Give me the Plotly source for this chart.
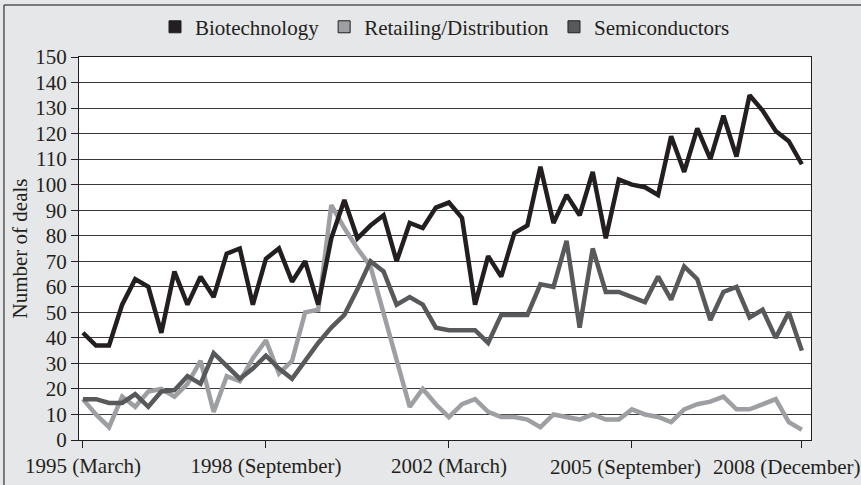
import plotly.graph_objects as go

quarters = list(range(56))
tick_positions = [0, 14, 28, 42, 55]
tick_labels = ["1995 (March)", "1998 (September)", "2002 (March)", "2005 (September)", "2008 (December)"]

biotech = [42, 37, 37, 53, 63, 60, 42, 66, 53, 64, 56, 73, 75, 53, 71, 75, 62, 70, 53, 79,
           94, 79, 84, 88, 70, 85, 83, 91, 93, 87, 53, 72, 64, 81, 84, 107, 85, 96, 88, 105,
           79, 102, 100, 99, 96, 119, 105, 122, 110, 127, 111, 135, 129, 121, 117, 108]
retail = [16, 10, 5, 17, 13, 19, 20, 17, 22, 31, 11, 25, 23, 32, 39, 26, 31, 50, 51, 92,
          83, 75, 68, 50, 32, 13, 20, 14, 9, 14, 16, 11, 9, 9, 8, 5, 10, 9, 8, 10,
          8, 8, 12, 10, 9, 7, 12, 14, 15, 17, 12, 12, 14, 16, 7, 4]
semis = [16, 16, 14.5, 14.5, 18, 13, 19, 19.5, 25, 22, 34, 29, 24, 28, 33, 28, 24, 31, 38, 44,
         49, 59, 70, 66, 53, 56, 53, 44, 43, 43, 43, 38, 49, 49, 49, 61, 60, 78, 44, 75,
         58, 58, 56, 54, 64, 55, 68, 63, 47, 58, 60, 48, 51, 40, 50, 35]

names = ["Biotechnology", "Retailing/Distribution", "Semiconductors"]
colors = ["#231f20", "#9d9fa2", "#58595b"]
series = [biotech, retail, semis]

FONT = "Liberation Serif"
FS = 21

fig = go.Figure()
# draw order: retail under, semis, biotech on top
for idx in [1, 2, 0]:
    fig.add_trace(go.Scatter(x=quarters, y=series[idx], mode="lines",
                             line=dict(color=colors[idx], width=4.5, shape="linear"),
                             showlegend=False, name=names[idx]))
for nm, c in zip(names, colors):
    fig.add_trace(go.Scatter(x=[None], y=[None], mode="markers", name=nm,
                             marker=dict(symbol="square", size=12, color=c,
                                         line=dict(color="#231f20", width=1))))

# last two labels are nudged left (as in the original), drawn at their tick positions
label_shift = [0, 0, 0, -6, -15]
tick_text = [t if s == 0 else "" for t, s in zip(tick_labels, label_shift)]
annots = [dict(text=t, xref="x", yref="paper", x=p, xshift=s, y=-0.07,
               xanchor="center", yanchor="middle", showarrow=False,
               font=dict(family=FONT, size=FS, color="#231f20"))
          for t, p, s in zip(tick_labels, tick_positions, label_shift) if s != 0]

fig.update_layout(
    width=861, height=485,
    margin=dict(l=79, r=50, t=57, b=45, autoexpand=False),
    paper_bgcolor="#e6e7e8", plot_bgcolor="white",
    font=dict(family=FONT, size=FS, color="#231f20"),
    legend=dict(orientation="h", x=0.5, xanchor="center", y=1.078, yanchor="middle",
                font=dict(family=FONT, size=FS), itemwidth=30, bgcolor="rgba(0,0,0,0)",
                tracegroupgap=0),
    xaxis=dict(range=[-0.3, 55.7], tickmode="array", tickvals=tick_positions,
               ticktext=tick_text, ticks="outside", ticklen=7, tickcolor="#231f20",
               showgrid=False, zeroline=False, showline=True, linecolor="#231f20",
               linewidth=1, mirror=True, tickfont=dict(family=FONT, size=FS),
               automargin=False, ticklabeloverflow="allow"),
    yaxis=dict(range=[0, 150], tickmode="linear", tick0=0, dtick=10, ticks="outside",
               ticklen=7, tickcolor="#231f20", showgrid=True, gridcolor="#3a3a3a",
               gridwidth=1, zeroline=False, showline=True, linecolor="#231f20",
               linewidth=1, mirror=True, tickfont=dict(family=FONT, size=FS),
               automargin=False,
               title=dict(text="Number of deals", font=dict(family=FONT, size=FS), standoff=1)),
    annotations=annots,
    shapes=[
        dict(type="line", xref="paper", yref="paper", x0=-0.1025, x1=-0.1025, y0=-0.2, y1=1.136,
             line=dict(color="#555555", width=1.5)),
        dict(type="line", xref="paper", yref="paper", x0=-0.1025, x1=1.2, y0=1.136, y1=1.136,
             line=dict(color="#555555", width=1.5)),
    ],
)

fig.write_html("out.html", config={"displayModeBar": False},
               post_script="document.body.style.margin='0';")
